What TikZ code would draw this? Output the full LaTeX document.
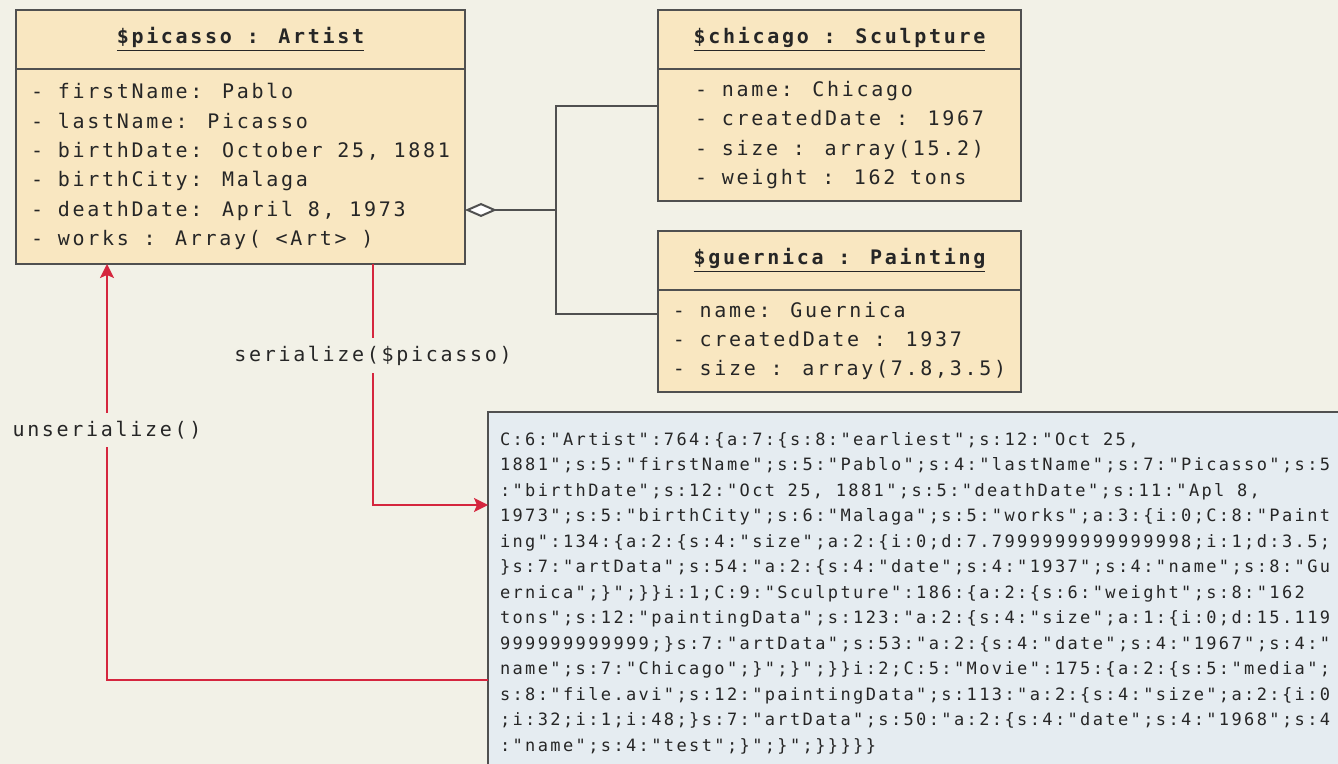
\documentclass[tikz,border=0pt]{standalone}
\usepackage{fontspec}
\usetikzlibrary{arrows.meta, positioning}

\newfontfamily\umlfont[LetterSpace=13.5]{DejaVu Sans Mono}
\newfontfamily\dumpfont[LetterSpace=14]{DejaVu Sans Mono}

\definecolor{paper}{HTML}{F2F1E7}
\definecolor{objfill}{HTML}{F9E7C1}
\definecolor{dumpfill}{HTML}{E5ECF1}
\definecolor{linkred}{HTML}{D5263E}
\definecolor{edgegray}{HTML}{505050}
\definecolor{ink}{HTML}{262626}

\begin{document}
\begin{tikzpicture}[x=0.5pt, y=-0.5pt,
    objhead/.style={draw=edgegray, line width=1pt, fill=objfill, outer sep=0pt,
        minimum height=29.5pt, text=ink, font={\umlfont\bfseries\fontsize{10}{14.65}\selectfont}},
    objbody/.style={draw=edgegray, line width=1pt, fill=objfill, outer sep=0pt,
        align=left, text=ink, font={\umlfont\fontsize{10}{14.65}\selectfont}},
    dumpbox/.style={draw=edgegray, line width=1pt, fill=dumpfill, outer sep=0pt,
        align=left, text=ink, inner xsep=6pt, inner ysep=10pt,
        font={\dumpfont\fontsize{8.5}{12.75}\selectfont}},
    lbl/.style={fill=paper, inner xsep=1pt, inner ysep=4pt, text=ink,
        font={\umlfont\fontsize{10}{14.65}\selectfont}},
    flow/.style={draw=linkred, line width=1pt, -{Stealth[length=7pt, width=7pt, inset=1.5pt]}},
    aggr/.style={draw=edgegray, line width=1pt}]

    \useasboundingbox (0,0) rectangle (1338,764);
    \clip (0,0) rectangle (1338,764);
    \fill[paper] (0,0) rectangle (1338,764);

    \node[objhead, minimum width=224.5pt] (picasso) at (240.5,39.5) {\underline{\$picasso : Artist}};
    \node[objbody, minimum width=224.5pt, minimum height=97.5pt, below=0pt of picasso] (picassoattr)
        {- firstName: Pablo\\ - lastName: Picasso\\ - birthDate: October 25, 1881\\
         - birthCity: Malaga\\ - deathDate: April 8, 1973\\ - works : Array( <Art> )};

    \node[objhead, minimum width=181.5pt] (chicago) at (839.5,39.5) {\underline{\$chicago : Sculpture}};
    \node[objbody, minimum width=181.5pt, minimum height=66pt, below=0pt of chicago] (chicagoattr)
        {- name: Chicago\\ - createdDate : 1967\\ - size : array(15.2)\\ - weight : 162 tons};

    \node[objhead, minimum width=181.5pt, below=15pt of chicagoattr] (guernica) {\underline{\$guernica : Painting}};
    \node[objbody, minimum width=181.5pt, minimum height=51pt, below=0pt of guernica] (guernicaattr)
        {- name: Guernica\\ - createdDate : 1937\\ - size : array(7.8,3.5)};

    % the dump runs on past the right edge of the page
    \node[dumpbox, anchor=north west] (dump) at (488,412)
        {C:6:"Artist":764:\{a:7:\{s:8:"earliest";s:12:"Oct 25,\\
         1881";s:5:"firstName";s:5:"Pablo";s:4:"lastName";s:7:"Picasso";s:5\hspace*{24pt}\\
         :"birthDate";s:12:"Oct 25, 1881";s:5:"deathDate";s:11:"Apl 8,\\
         1973";s:5:"birthCity";s:6:"Malaga";s:5:"works";a:3:\{i:0;C:8:"Paint\\
         ing":134:\{a:2:\{s:4:"size";a:2:\{i:0;d:7.7999999999999998;i:1;d:3.5;\\
         \}s:7:"artData";s:54:"a:2:\{s:4:"date";s:4:"1937";s:4:"name";s:8:"Gu\\
         ernica";\}";\}\}i:1;C:9:"Sculpture":186:\{a:2:\{s:6:"weight";s:8:"162\\
         tons";s:12:"paintingData";s:123:"a:2:\{s:4:"size";a:1:\{i:0;d:15.119\\
         999999999999;\}s:7:"artData";s:53:"a:2:\{s:4:"date";s:4:"1967";s:4:"\\
         name";s:7:"Chicago";\}";\}";\}\}i:2;C:5:"Movie":175:\{a:2:\{s:5:"media";\\
         s:8:"file.avi";s:12:"paintingData";s:113:"a:2:\{s:4:"size";a:2:\{i:0\\
         ;i:32;i:1;i:48;\}s:7:"artData";s:50:"a:2:\{s:4:"date";s:4:"1968";s:4\\
         :"name";s:4:"test";\}";\}";\}\}\}\}\}};

    \draw[aggr, {Diamond[fill=white, length=16pt, width=7pt]}-] ([yshift=-21.75pt]picassoattr.east)
        -- ++(91,0) coordinate (fork) |- ([yshift=14.5pt]chicagoattr.west);
    \draw[aggr] (fork) |- ([yshift=13.5pt]guernicaattr.west);

    \draw[flow] ([xshift=66.25pt]picassoattr.south) |- node[lbl, pos=0.19] {serialize(\$picasso)}
        ([yshift=-46.5pt]dump.north west);
    \draw[flow] ([yshift=-134pt]dump.north west) -| node[lbl, pos=0.8] {unserialize()}
        ([xshift=-66.75pt]picassoattr.south);
\end{tikzpicture}
\end{document}
